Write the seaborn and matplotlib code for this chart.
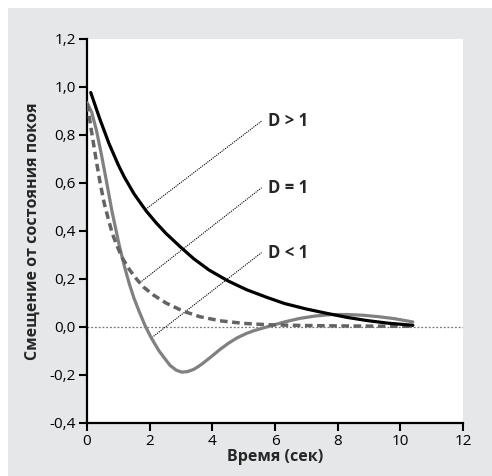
import matplotlib
matplotlib.use("Agg")
import matplotlib.pyplot as plt
from matplotlib.patches import Rectangle
import seaborn as sns
import pandas as pd

# values
x_over = [0.12, 0.4, 0.7, 1.0, 1.19, 1.5, 1.88, 2.2, 2.52, 2.97, 3.4, 3.9, 4.5, 5.1,
          5.73, 6.3, 7.0, 7.65, 8.3, 8.93, 9.6, 10.4]
y_over = [0.977, 0.87, 0.765, 0.675, 0.625, 0.555, 0.485, 0.435, 0.39, 0.335, 0.285, 0.237, 0.192, 0.155,
          0.124, 0.098, 0.075, 0.057, 0.04, 0.027, 0.016, 0.007]

x_crit = [0.01, 0.15, 0.3, 0.42, 0.55, 0.7, 0.82, 1.0, 1.14, 1.35, 1.56, 1.8, 2.1, 2.52,
          3.07, 3.6, 4.24, 5.0, 5.84, 7.0, 8.5, 10.4]
y_crit = [0.93, 0.81, 0.69, 0.6, 0.515, 0.44, 0.385, 0.325, 0.285, 0.24, 0.203, 0.167, 0.135, 0.10,
          0.066, 0.043, 0.026, 0.015, 0.009, 0.006, 0.004, 0.003]

x_under = [0.0, 0.15, 0.3, 0.45, 0.61, 0.8, 1.03, 1.2, 1.35, 1.5, 1.67, 1.86, 2.05, 2.3,
           2.65, 2.85, 3.02, 3.2, 3.4, 3.55, 3.71, 4.0, 4.24, 4.5, 4.78, 5.05, 5.31, 5.84,
           6.3, 6.8, 7.3, 7.8, 8.3, 8.8, 9.3, 9.8, 10.4]
y_under = [0.935, 0.895, 0.82, 0.725, 0.615, 0.48, 0.34, 0.25, 0.18, 0.12, 0.063, 0.004, -0.045, -0.1,
           -0.16, -0.18, -0.188, -0.186, -0.177, -0.165, -0.15, -0.12, -0.094, -0.069, -0.046, -0.029,
           -0.016, 0.004, 0.021, 0.036, 0.046, 0.052, 0.052, 0.049, 0.043, 0.035, 0.021]

labels = ["D > 1", "D = 1", "D < 1"]
# where each leader line touches its curve
leader_x = [1.87, 1.69, 2.07]
leader_y = [0.49, 0.185, -0.044]
label_x = 5.57
label_y = [0.858, 0.58, 0.31]

x_ticks = [0, 2, 4, 6, 8, 10, 12]
y_ticks = [-0.4, -0.2, 0.0, 0.2, 0.4, 0.6, 0.8, 1.0, 1.2]

sns.set_style("ticks")
plt.rcParams["font.family"] = ["Open Sans", "DejaVu Sans"]

fig = plt.figure(figsize=(4.92, 4.76), dpi=100)
fig.patch.set_facecolor("white")
fig.patches.append(Rectangle((8 / 492, 0), 1 - 8 / 492, 468 / 476, transform=fig.transFigure,
                             facecolor="#e6e7e8", edgecolor="none", zorder=-10))
ax = fig.add_axes([87 / 492, 53 / 476, 376 / 492, 384 / 476])
ax.set_facecolor("white")

ax.axhline(0, color="#777777", lw=0.9, ls=(0, (1.5, 1.5)), zorder=1)

over = pd.DataFrame({"t": x_over, "y": y_over})
crit = pd.DataFrame({"t": x_crit, "y": y_crit})
under = pd.DataFrame({"t": x_under, "y": y_under})

sns.lineplot(data=under, x="t", y="y", ax=ax, sort=False, color="#808080", lw=2.3, zorder=3,
             solid_joinstyle="round")
sns.lineplot(data=crit, x="t", y="y", ax=ax, sort=False, color="#636363", lw=2.5,
             linestyle=(0, (2.2, 1.3)), zorder=4)
sns.lineplot(data=over, x="t", y="y", ax=ax, sort=False, color="black", lw=2.3, zorder=5,
             solid_joinstyle="round")

for lab, lx, ly, ty in zip(labels, leader_x, leader_y, label_y):
    ax.plot([lx, label_x], [ly, ty], color="black", lw=0.8, ls=(0, (1, 1)), zorder=2)
    ax.text(label_x + 0.2, ty, lab, fontsize=12, fontweight="bold", va="center", ha="left")

ax.set_xlim(0, 12)
ax.set_ylim(-0.4, 1.2)
ax.set_xticks(x_ticks)
ax.set_xticklabels([str(t) for t in x_ticks])
ax.set_yticks(y_ticks)
ax.set_yticklabels([f"{v:.1f}".replace(".", ",") for v in y_ticks])
ax.tick_params(axis="both", direction="out", length=6, width=1.5, labelsize=11,
               colors="black", pad=2)

sns.despine(ax=ax)
for side in ["left", "bottom"]:
    ax.spines[side].set_linewidth(1.6)
    ax.spines[side].set_color("black")

ax.set_xlabel("Время (сек)", fontsize=11.5, fontweight="bold", labelpad=0)
ax.set_ylabel("Смещение от состояния покоя", fontsize=11.5, fontweight="bold", labelpad=6)

fig.savefig("out.png", dpi=100)
